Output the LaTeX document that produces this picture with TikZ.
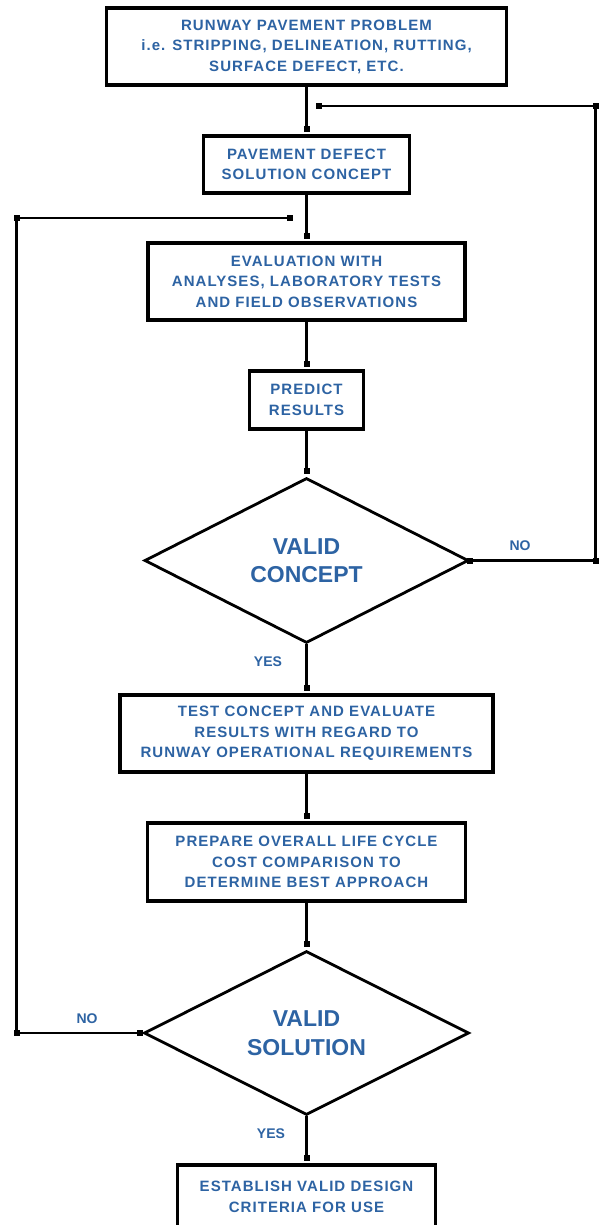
\documentclass[tikz,border=0pt]{standalone}
\usepackage{fontspec}
\setmainfont{Liberation Sans}
\newfontfamily\boxfont[LetterSpace=7]{Liberation Sans}
\usetikzlibrary{shapes.geometric,arrows.meta}
\definecolor{txtblue}{HTML}{2D63A3}
\begin{document}
\begin{tikzpicture}[x=1pt,y=-1pt,
  box/.style={draw=black,line width=3.2pt,fill=white,inner sep=0pt,align=center,
    text=txtblue,font=\boxfont\bfseries\fontsize{15}{20.5}\selectfont},
  dec/.style={draw=black,line width=2.8pt,shape=diamond,inner sep=0pt,align=center,
    text=txtblue,font=\bfseries\fontsize{23}{28.5}\selectfont},
  conn/.style={line width=2.6pt,shorten >=2.5pt,-{Square[length=6pt,width=6pt]}},
  fb/.style={line width=2.6pt,-{Square[length=6pt,width=6pt]}},
  sq/.style={fill=black,minimum size=6pt,inner sep=0pt,outer sep=0pt},
  lab/.style={text=txtblue,font=\bfseries\fontsize{14}{16}\selectfont,inner sep=0pt}
]
\useasboundingbox (0,0) rectangle (599,1225);
\begin{scope}
\clip (0,0) rectangle (599,1225);

\node[box,minimum width=400pt,minimum height=77pt] (top) at (306.5,46.5)
  {RUNWAY PAVEMENT PROBLEM\\i.e. STRIPPING, DELINEATION, RUTTING,\\SURFACE DEFECT, ETC.};
\node[box,minimum width=206pt,minimum height=57pt] (sol) at (306.5,164.5)
  {PAVEMENT DEFECT\\SOLUTION CONCEPT};
\node[box,minimum width=317pt,minimum height=77pt] (eval) at (306.5,281.5)
  {EVALUATION WITH\\ANALYSES, LABORATORY TESTS\\AND FIELD OBSERVATIONS};
\node[box,minimum width=114pt,minimum height=58pt] (pred) at (306.5,400)
  {PREDICT\\RESULTS};
\node[dec,minimum width=324pt,minimum height=165pt] (d1) at (306.5,560.5)
  {VALID\\CONCEPT};
\node[box,minimum width=373pt,minimum height=77pt] (test) at (306.5,733.5)
  {TEST CONCEPT AND EVALUATE\\RESULTS WITH REGARD TO\\RUNWAY OPERATIONAL REQUIREMENTS};
\node[box,minimum width=318pt,minimum height=78pt] (prep) at (306.5,862)
  {PREPARE OVERALL LIFE CYCLE\\COST COMPARISON TO\\DETERMINE BEST APPROACH};
\node[dec,minimum width=325pt,minimum height=164pt] (d2) at (306.5,1033)
  {VALID\\SOLUTION};
\node[box,minimum width=258pt,minimum height=64pt] (fin) at (306.5,1197)
  {ESTABLISH VALID DESIGN\\CRITERIA FOR USE};

% main flow
\draw[conn] (top.south) -- (sol.north);
\draw[conn] (sol.south) -- (eval.north);
\draw[conn] (eval.south) -- (pred.north);
\draw[conn] (pred.south) -- (d1.north);
\draw[conn] (d1.south) -- (test.north);
\draw[conn] (test.south) -- (prep.north);
\draw[conn] (prep.south) -- (d2.north);
\draw[conn] (d2.south) -- (fin.north);

% right feedback (NO from valid concept)
\coordinate (r1) at (595.5,560.5);
\coordinate (r2) at (595.5,106);
\coordinate (r3) at (316,106);
\draw[fb] (d1.east) -- (r1) -- (r2) -- (r3);
\node[sq] at (d1.east) {};
\node[sq] at (r1) {};
\node[sq] at (r2) {};

% left feedback (NO from valid solution)
\coordinate (l0) at (140,1033);
\coordinate (l1) at (16.5,1033);
\coordinate (l2) at (16.5,218);
\coordinate (l3) at (293,218);
\draw[line width=2.6pt] (d2.west) -- (l1) -- (l2);
\draw[fb] (l2) -- (l3);
\node[sq] at (l0) {};
\node[sq] at (l1) {};
\node[sq] at (l2) {};

% labels
\node[lab] (no1) at (520,546) {NO};
\node[lab] (yes1) at (268,662) {YES};
\node[lab] (no2) at (87,1019) {NO};
\node[lab] (yes2) at (271,1134) {YES};
\end{scope}
\end{tikzpicture}
\end{document}
